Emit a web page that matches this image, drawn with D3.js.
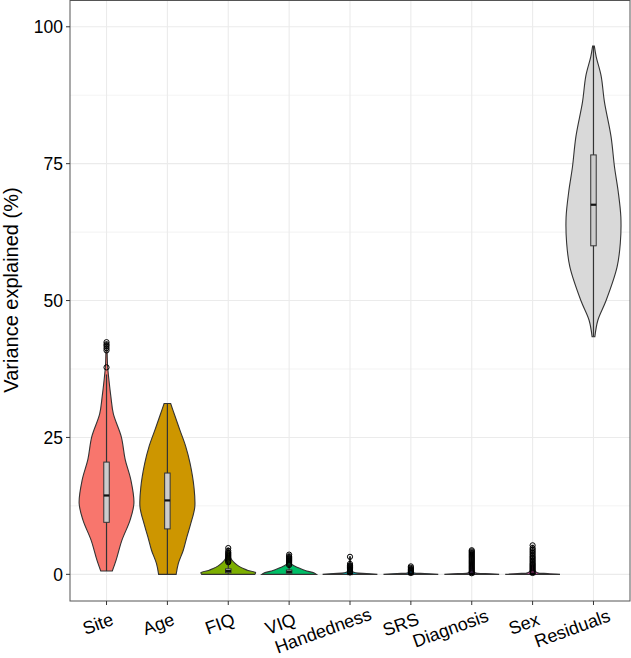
<!DOCTYPE html>
<html>
<head>
<meta charset="utf-8">
<script src="https://cdn.jsdelivr.net/npm/d3@7"></script>
<style>
  body { margin: 0; background: #fff; }
  text { font-family: "Liberation Sans", Arial, sans-serif; fill: #000; }
</style>
</head>
<body>
<div class="container"></div>
<script>
// categories and fills
const categories = ['Site', 'Age', 'FIQ', 'VIQ', 'Handedness', 'SRS', 'Diagnosis', 'Sex', 'Residuals'];
const fills = ['#F8766D', '#CD9600', '#7CAE00', '#00BE67', '#00BFC4', '#00A9FF', '#C77CFF', '#FF61CC', '#D9D9D9'];

// violin outlines: [value, relative half width]
const siteViolin = [[0.6, 0.21], [2.6, 0.35], [6.2, 0.56], [9.9, 0.86], [13, 1.0], [17.2, 0.89], [21, 0.68], [25.1, 0.54], [29.3, 0.25], [32.4, 0.16], [35.4, 0.09], [38, 0.04], [40, 0.025], [42.4, 0.015]];
const ageViolin = [[0, 0.32], [2, 0.4], [4.4, 0.58], [6.8, 0.71], [9.2, 0.85], [12.3, 1.0], [15.9, 0.97], [20.2, 0.83], [23.5, 0.66], [26.3, 0.46], [29, 0.27], [31.2, 0.12]];
const fiqViolin = [[0, 0.97], [0.3, 1.0], [0.7, 0.72], [1.0, 0.57], [1.5, 0.38], [2.1, 0.23], [2.7, 0.12], [3.2, 0.07], [4, 0.03], [4.8, 0.02]];
const viqViolin = [[0, 1.0], [0.3, 0.9], [0.6, 0.64], [1.2, 0.34], [1.8, 0.1], [2.5, 0.04], [3.6, 0.02]];
const handViolin = [[0, 1.0], [0.15, 0.6], [0.3, 0.2], [0.6, 0.06], [1.2, 0.03], [3.2, 0.02]];
const srsViolin = [[0, 1.0], [0.15, 0.5], [0.3, 0.1], [0.6, 0.04], [1.3, 0.02]];
const diagViolin = [[0, 1.0], [0.15, 0.5], [0.3, 0.12], [1, 0.04], [4.4, 0.02]];
const sexViolin = [[0, 1.0], [0.15, 0.55], [0.35, 0.15], [1, 0.05], [5.3, 0.02]];
const residViolin = [[43.4, 0.05], [46.4, 0.16], [50, 0.46], [56.1, 0.86], [60.5, 0.98], [65.2, 1.0], [70, 0.9], [74.3, 0.77], [80, 0.64], [86.3, 0.4], [91, 0.28], [94.5, 0.1], [96.5, 0.03]];
const violins = [siteViolin, ageViolin, fiqViolin, viqViolin, handViolin, srsViolin, diagViolin, sexViolin, residViolin];

// box plot stats
const whiskerLow = [0.6, 0, 0, 0, 0, 0, 0, 0, 43.4];
const boxLow = [9.5, 8.3, 0.3, 0.2, 0.02, 0.01, 0.01, 0.01, 60.0];
const boxMedian = [14.4, 13.5, 0.6, 0.45, 0.05, 0.03, 0.03, 0.04, 67.5];
const boxHigh = [20.5, 18.5, 1.0, 0.8, 0.15, 0.08, 0.08, 0.1, 76.6];
const whiskerHigh = [36.5, 31.2, 2.0, 1.6, 0.3, 0.2, 0.18, 0.2, 96.5];

// outliers
const siteOutliers = [37.8, 40.9, 41.3, 41.7, 42.0, 42.4];
const ageOutliers = [];
const fiqOutliers = [2.2, 2.4, 2.6, 2.8, 3.0, 3.2, 3.4, 3.6, 3.8, 4.0, 4.3, 4.8];
const viqOutliers = [1.7, 1.9, 2.1, 2.3, 2.5, 2.7, 2.9, 3.1, 3.3, 3.6];
const handOutliers = [0.35, 0.5, 0.65, 0.8, 0.95, 1.1, 1.25, 1.4, 1.6, 1.9, 3.2];
const srsOutliers = [0.25, 0.4, 0.55, 0.7, 0.85, 1.0, 1.2, 1.45];
const diagOutliers = [0.2, 0.4, 0.6, 0.8, 1.0, 1.2, 1.4, 1.6, 1.8, 2.0, 2.2, 2.4, 2.6, 2.8, 3.0, 3.2, 3.4, 3.6, 3.8, 4.0, 4.2, 4.4];
const sexOutliers = [0.25, 0.45, 0.65, 0.85, 1.05, 1.25, 1.45, 1.65, 1.85, 2.05, 2.3, 2.55, 2.8, 3.05, 3.3, 3.6, 3.9, 4.2, 4.5, 4.8, 5.3];
const residOutliers = [];
const outliers = [siteOutliers, ageOutliers, fiqOutliers, viqOutliers, handOutliers, srsOutliers, diagOutliers, sexOutliers, residOutliers];

const yTicks = [0, 25, 50, 75, 100];
const yMinor = [12.5, 37.5, 62.5, 87.5];

const W = 631, H = 658;
const panel = {left: 70, right: 630, top: 0.5, bottom: 601};

const svg = d3.select('.container')
  .append('svg')
  .attr('width', W)
  .attr('height', H);

const x = d3.scalePoint()
  .domain(categories)
  .range([panel.left, panel.right])
  .padding(0.6);
const step = x.step();
const halfW = 0.45 * step;
const boxHalf = 0.045 * step;

const y = d3.scaleLinear()
  .domain([-4.87, 104.8])
  .range([panel.bottom, panel.top]);

// grid
const grid = svg.append('g');
grid.selectAll('.minor').data(yMinor).join('line')
  .attr('x1', panel.left).attr('x2', panel.right)
  .attr('y1', d => y(d)).attr('y2', d => y(d))
  .attr('stroke', '#ebebeb').attr('stroke-width', 0.6);
grid.selectAll('.major').data(yTicks).join('line')
  .attr('x1', panel.left).attr('x2', panel.right)
  .attr('y1', d => y(d)).attr('y2', d => y(d))
  .attr('stroke', '#ebebeb').attr('stroke-width', 1.1);
grid.selectAll('.vmajor').data(categories).join('line')
  .attr('x1', d => x(d)).attr('x2', d => x(d))
  .attr('y1', panel.top).attr('y2', panel.bottom)
  .attr('stroke', '#ebebeb').attr('stroke-width', 1.1);

// violins
categories.forEach((cat, i) => {
  const cx = x(cat);
  const area = d3.area()
    .y(d => y(d[0]))
    .x0(d => cx - d[1] * halfW)
    .x1(d => cx + d[1] * halfW)
    .curve(d3.curveCatmullRom.alpha(0.5));
  svg.append('path')
    .attr('d', area(violins[i]))
    .attr('fill', fills[i])
    .attr('stroke', '#333')
    .attr('stroke-width', 1.1);
});

// boxplots
categories.forEach((cat, i) => {
  const cx = x(cat);
  const g = svg.append('g');
  g.append('line')
    .attr('x1', cx).attr('x2', cx)
    .attr('y1', y(whiskerLow[i])).attr('y2', y(whiskerHigh[i]))
    .attr('stroke', '#333').attr('stroke-width', 1.2);
  g.append('rect')
    .attr('x', cx - boxHalf)
    .attr('width', boxHalf * 2)
    .attr('y', y(boxHigh[i]))
    .attr('height', Math.max(0.5, y(boxLow[i]) - y(boxHigh[i])))
    .attr('fill', '#cccccc')
    .attr('stroke', '#333').attr('stroke-width', 1);
  g.append('line')
    .attr('x1', cx - boxHalf).attr('x2', cx + boxHalf)
    .attr('y1', y(boxMedian[i])).attr('y2', y(boxMedian[i]))
    .attr('stroke', '#111').attr('stroke-width', 2.2);
  g.selectAll('circle').data(outliers[i]).join('circle')
    .attr('cx', cx)
    .attr('cy', d => y(d))
    .attr('r', 2.6)
    .attr('fill', 'none')
    .attr('stroke', '#000')
    .attr('stroke-width', 1);
});

// panel border
svg.append('rect')
  .attr('x', panel.left).attr('y', panel.top)
  .attr('width', panel.right - panel.left)
  .attr('height', panel.bottom - panel.top)
  .attr('fill', 'none')
  .attr('stroke', '#555')
  .attr('stroke-width', 1);

// y axis
const yAxis = svg.append('g');
yAxis.selectAll('line').data(yTicks).join('line')
  .attr('x1', panel.left - 4).attr('x2', panel.left)
  .attr('y1', d => y(d)).attr('y2', d => y(d))
  .attr('stroke', '#333');
yAxis.selectAll('text').data(yTicks).join('text')
  .attr('x', panel.left - 7)
  .attr('y', d => y(d))
  .attr('dy', '0.36em')
  .attr('text-anchor', 'end')
  .style('font-size', '17.5px')
  .text(d => d);

// x axis
const xAxis = svg.append('g');
xAxis.selectAll('line').data(categories).join('line')
  .attr('x1', d => x(d)).attr('x2', d => x(d))
  .attr('y1', panel.bottom).attr('y2', panel.bottom + 4)
  .attr('stroke', '#333');
xAxis.selectAll('text').data(categories).join('text')
  .attr('transform', d => `translate(${x(d)},622) rotate(-20)`)
  .attr('y', 5)
  .style('font-size', '18px')
  .text(d => d)
  .attr('x', function() { return -0.78 * this.getComputedTextLength(); });

// y title
svg.append('text')
  .attr('transform', 'translate(17.5,290) rotate(-90)')
  .attr('text-anchor', 'middle')
  .style('font-size', '20px')
  .text('Variance explained (%)');
</script>
</body>
</html>
